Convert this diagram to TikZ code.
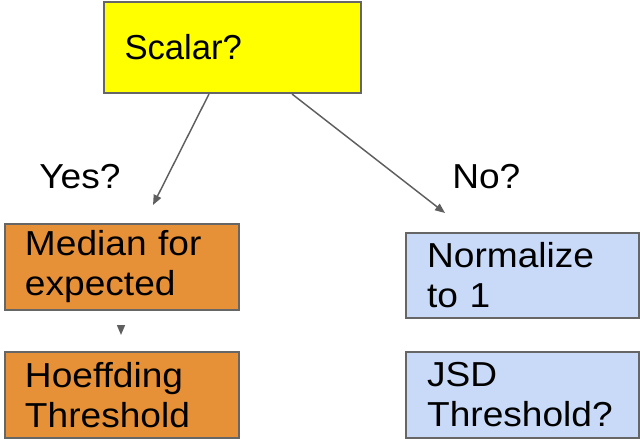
\documentclass[tikz,border=0pt]{standalone}
\usepackage{fontspec}
\setmainfont{Liberation Sans}
\newfontfamily\widefont[FakeStretch=1.07]{Liberation Sans}
\usetikzlibrary{arrows.meta,calc}
\definecolor{boxline}{HTML}{666666}
\definecolor{arrline}{HTML}{5F5F5F}
\definecolor{scalyellow}{HTML}{FFFF00}
\definecolor{medorange}{HTML}{E69138}
\definecolor{normblue}{HTML}{C9DAF8}
\tikzset{
  stepbox/.style={draw=boxline,line width=1.5pt,rectangle,inner sep=0pt,align=left,
    font=\widefont\fontsize{26}{30}\selectfont},
  arr/.style={draw=arrline,line width=1.1pt,-{Triangle[length=7.5pt,width=6pt]}},
  lbl/.style={inner sep=0pt,anchor=base west,font=\widefont\fontsize{26}{30}\selectfont}
}
\begin{document}
\begin{tikzpicture}[x=0.75pt,y=-0.75pt]
  \useasboundingbox (0,0) rectangle (640,439); % picture area
  \node[stepbox,fill=scalyellow,minimum width=192.75pt,minimum height=68.25pt,text width=162pt,
    font=\fontsize{26}{30}\selectfont] (scalar) at (232.5,47.5) {Scalar?}; % question box
  \node[stepbox,fill=medorange,minimum width=175.5pt,minimum height=64.5pt,text width=145.5pt] (med) at (122,267) {Median for\\expected}; % left branch, first step
  \node[stepbox,fill=medorange,minimum width=175.5pt,minimum height=64.5pt,text width=145.5pt] (hoef) at (122,395) {Hoeffding\\Threshold}; % left branch, second step
  \node[stepbox,fill=normblue,minimum width=174.75pt,minimum height=63.75pt,text width=143pt] (norm) at (522.5,275.5) {Normalize\\to 1}; % right branch, first step
  \node[stepbox,fill=normblue,minimum width=174.75pt,minimum height=64.5pt,text width=143pt] (jsd) at (522.5,395) {JSD\\Threshold?}; % right branch, second step
  \node[lbl] (yes) at (39,188) {Yes?}; % answer on the left
  \node[lbl] (no) at (452,188) {No?}; % answer on the right
  \coordinate (yesend) at (153,205); % end of the left arrow
  \coordinate (noend) at (445,213); % end of the right arrow
  \coordinate (medtip) at (121,335); % tip of the short arrow
  \draw[arr] ($(scalar.south)+(-23.5,0)$) -- (yesend); % scalar -> yes
  \draw[arr] ($(scalar.south)+(59.5,0)$) -- (noend); % scalar -> no
  \draw[arr] ($(medtip)+(0,-10)$) -- (medtip); % short arrow between the orange boxes
\end{tikzpicture}
\end{document}
